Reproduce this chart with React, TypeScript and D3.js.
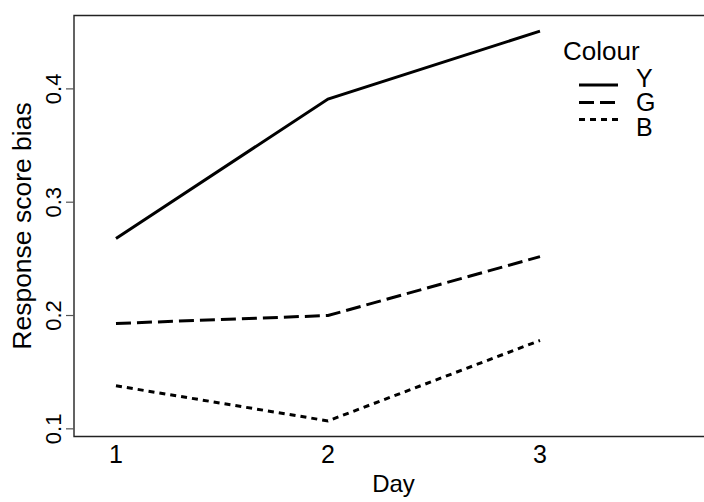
import React from "react";
import * as d3 from "d3";

// Interaction plot: mean response score bias by day, one line per colour
const days = [1, 2, 3];
const colours = ["Y", "G", "B"];
const seriesY = [0.268, 0.391, 0.451];
const seriesG = [0.193, 0.2, 0.252];
const seriesB = [0.138, 0.107, 0.178];
const yTicks = [0.1, 0.2, 0.3, 0.4];

const W = 704;
const H = 502;
const plot = { left: 74, top: 15.5, right: 713, bottom: 436.5 };
const FONT = "'Liberation Sans', Arial, Helvetica, sans-serif";

const dashes: Record<string, string | undefined> = {
  Y: undefined,
  G: "15 6",
  B: "6 5",
};

export default function App() {
  const all = [...seriesY, ...seriesG, ...seriesB];
  const lo = d3.min(all)!;
  const hi = d3.max(all)!;
  const pad = (hi - lo) * 0.04;

  const x = d3.scaleLinear().domain([0.802, 3.816]).range([plot.left, plot.right]);
  const y = d3.scaleLinear().domain([lo - pad, hi + pad]).range([plot.bottom, plot.top]);

  const line = d3
    .line<number>()
    .x((_, i) => x(days[i]))
    .y((v) => y(v));

  const series = [
    { key: "Y", values: seriesY },
    { key: "G", values: seriesG },
    { key: "B", values: seriesB },
  ];

  const legendX0 = 579;
  const legendX1 = 618;
  const legendLineY = [85, 102.5, 119.5];
  const legendTextY = [86.5, 111, 135.5];

  return (
    <svg
      width={W}
      height={H}
      style={{ position: "fixed", left: 0, top: 0, background: "#fff" }}
      fontFamily={FONT}
    >
      {/* plot frame (right side runs past the canvas) */}
      <path
        d={`M${W + 2},${plot.top}H${plot.left}V${plot.bottom}H${W + 2}`}
        fill="none"
        stroke="#222"
        strokeWidth={1.4}
      />

      {/* y axis ticks and rotated labels */}
      {yTicks.map((t) => (
        <g key={t}>
          <line x1={plot.left - 8} x2={plot.left} y1={y(t)} y2={y(t)} stroke="#555" strokeWidth={1.2} />
          <text
            transform={`translate(61,${y(t)}) rotate(-90)`}
            textAnchor="middle"
            fontSize={22}
            fill="#000"
          >
            {t.toFixed(1)}
          </text>
        </g>
      ))}

      {/* x axis labels */}
      {days.map((d) => (
        <text key={d} x={x(d)} y={463} textAnchor="middle" fontSize={25} fill="#000">
          {d}
        </text>
      ))}

      <text x={(plot.left + plot.right) / 2} y={492} textAnchor="middle" fontSize={24} fill="#000">
        Day
      </text>
      <text
        transform={`translate(31,${(plot.top + plot.bottom) / 2}) rotate(-90)`}
        textAnchor="middle"
        fontSize={26.5}
        fill="#000"
      >
        Response score bias
      </text>

      {/* series lines */}
      {series.map((s) => (
        <path
          key={s.key}
          d={line(s.values) ?? ""}
          fill="none"
          stroke="#000"
          strokeWidth={3}
          strokeDasharray={dashes[s.key]}
        />
      ))}

      {/* legend */}
      <text x={563} y={60} fontSize={26} fill="#000">
        Colour
      </text>
      {colours.map((c, i) => (
        <g key={c}>
          <line
            x1={legendX0}
            x2={legendX1}
            y1={legendLineY[i]}
            y2={legendLineY[i]}
            stroke="#000"
            strokeWidth={3}
            strokeDasharray={dashes[c]}
          />
          <text x={636} y={legendTextY[i]} fontSize={25} fill="#000">
            {c}
          </text>
        </g>
      ))}
    </svg>
  );
}
